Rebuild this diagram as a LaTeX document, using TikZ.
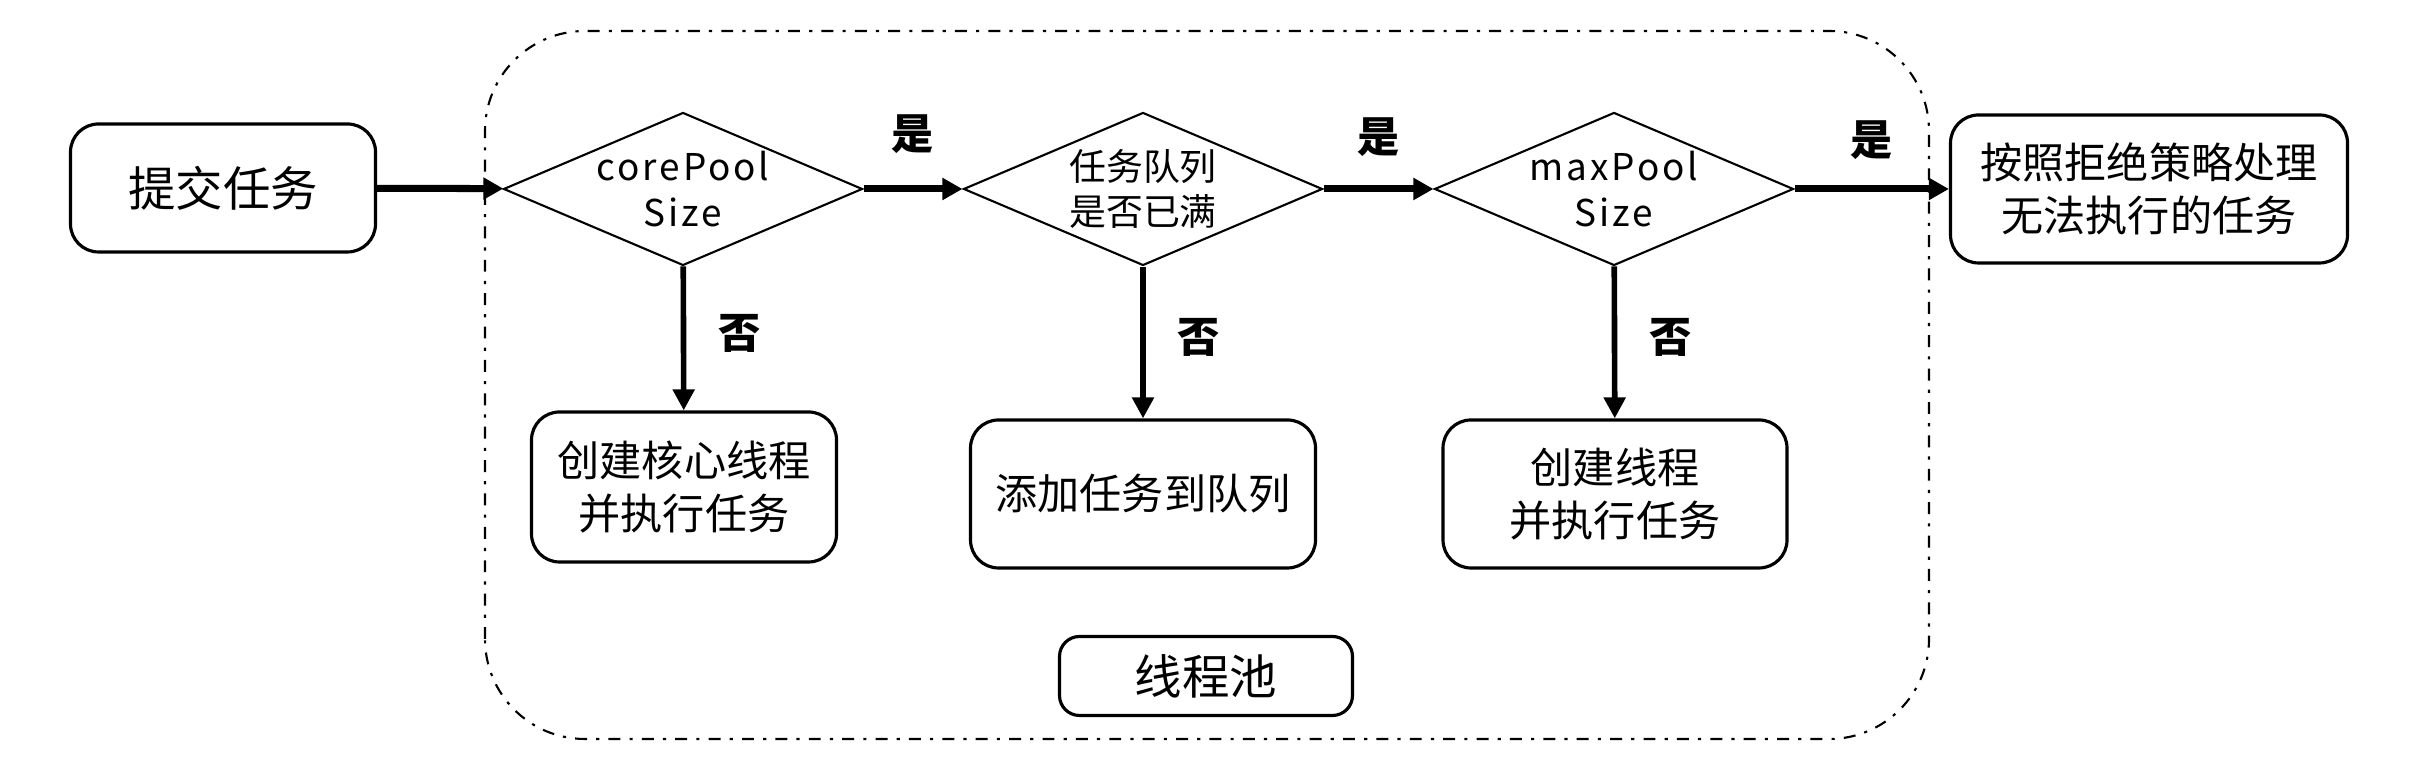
\documentclass[tikz,border=0pt]{standalone}
\usepackage{fontspec}
\setmainfont{Noto Sans CJK SC}
\usetikzlibrary{arrows.meta, shapes.geometric}

\begin{document}
\begin{tikzpicture}
\useasboundingbox (0,0) rectangle (24.28,7.72);

\draw[line width=0.6pt, dash pattern=on 3.4pt off 2.6pt on 0.9pt off 2.6pt,
rounded corners=1cm] (4.85,0.33) rectangle (19.29,7.41);

\path[every node/.style={draw, line width=0.9pt, rounded corners=0.28cm,
align=center, font=\fontsize{12}{15}\selectfont}]
(2.23,5.84) node[minimum width=3.05cm, minimum height=1.28cm,
font=\fontsize{13.5}{16}\selectfont] (submit) {提交任务}
(21.49,5.83) node[minimum width=3.97cm, minimum height=1.48cm] (reject)
{按照拒绝策略处理\\无法执行的任务}
(6.84,2.85) node[minimum width=3.05cm, minimum height=1.50cm] (core)
{创建核心线程\\并执行任务}
(11.43,2.78) node[minimum width=3.45cm, minimum height=1.48cm] (queue)
{添加任务到队列}
(16.15,2.78) node[minimum width=3.44cm, minimum height=1.48cm] (worker)
{创建线程\\并执行任务}
(12.06,0.96) node[minimum width=2.93cm, minimum height=0.79cm,
rounded corners=0.2cm, font=\fontsize{13.5}{16}\selectfont] (pool) {线程池}
;

\path[every node/.style={diamond, draw, line width=0.6pt, aspect=2.35,
inner sep=-3pt, minimum width=3.59cm, minimum height=1.53cm, align=center,
font=\fontsize{10.5}{13}\selectfont}]
(6.83,5.83) node (isCore) {\addfontfeature{LetterSpace=8}corePool\\
\addfontfeature{LetterSpace=8}Size}
(11.43,5.83) node (isFull) {任务队列\\是否已满}
(16.14,5.83) node (isMax) {\addfontfeature{LetterSpace=8}maxPool\\
\addfontfeature{LetterSpace=8}Size}
;

\begin{scope}[-{Triangle[length=0.2cm, width=0.21cm]}, line width=2pt,
every node/.style={font=\bfseries\fontsize{12}{14}\selectfont}]
\draw (submit) -- (isCore);
\draw (isCore) -- node[above=0.2cm] {是} (isFull);
\draw (isFull) -- node[above=0.17cm] {是} (isMax);
\draw (isMax) -- node[above=0.14cm] {是} (reject);
\end{scope}

\begin{scope}[-{Triangle[length=0.21cm, width=0.21cm]}, line width=1.6pt,
every node/.style={font=\bfseries\fontsize{12}{14}\selectfont}]
\draw (isCore) -- node[right=0.2cm, yshift=0.05cm] {否} (core);
\draw (isFull) -- node[right=0.2cm, yshift=0.05cm] {否} (queue);
\draw (isMax) -- node[right=0.2cm, yshift=0.05cm] {否} (worker);
\end{scope}

\end{tikzpicture}
\end{document}
